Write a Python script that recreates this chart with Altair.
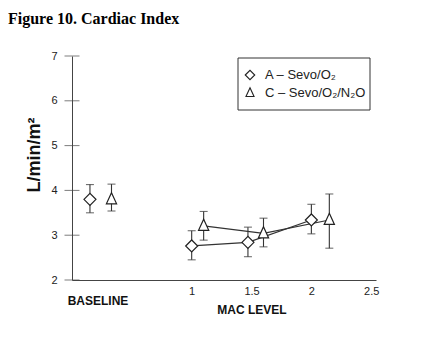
import altair as alt
import pandas as pd

# ---- data ----
groups = ["A – Sevo/O₂", "C – Sevo/O₂/N₂O"]
phase = ["baseline", "mac", "mac", "mac"]
a_x = [0.15, 1.0, 1.47, 2.0]
a_mean = [3.80, 2.76, 2.84, 3.34]
a_lo = [3.50, 2.45, 2.52, 3.03]
a_hi = [4.13, 3.10, 3.18, 3.69]
c_x = [0.33, 1.1, 1.6, 2.15]
c_mean = [3.80, 3.21, 3.04, 3.34]
c_lo = [3.54, 2.89, 2.74, 2.71]
c_hi = [4.14, 3.53, 3.38, 3.92]
y_ticks = [2, 3, 4, 5, 6, 7]
x_ticks = [1, 1.5, 2, 2.5]

rows = []
for g, xs, ms, los, his in [(groups[0], a_x, a_mean, a_lo, a_hi),
                            (groups[1], c_x, c_mean, c_lo, c_hi)]:
    for p, xv, m, lo, hi in zip(phase, xs, ms, los, his):
        rows.append({"group": g, "phase": p, "x": xv, "mean": m, "lo": lo, "hi": hi})
df = pd.DataFrame(rows)

AX = "#444444"
INK = "#333333"
FONT = "Liberation Sans"
SHAPES = ["diamond", "M0,-1.1L0.85,0.75L-0.85,0.75Z"]

xscale = alt.Scale(domain=[0, 2.54], nice=False, zero=False)
yscale = alt.Scale(domain=[2, 7], nice=False, zero=False)
xaxis = alt.Axis(values=x_ticks, ticks=False, grid=False, labelPadding=5,
                 labelFontSize=11, labelFont=FONT, labelColor="#222",
                 domainColor=AX, labelExpr="datum.value", title=None)
yaxis = alt.Axis(values=y_ticks, ticks=False, grid=False, labelPadding=15,
                 labelFontSize=11, labelFont=FONT, labelColor="#222",
                 domainColor=AX, title=None)

X = alt.X("x:Q", scale=xscale, axis=xaxis, title=None)
Y = alt.Y("mean:Q", scale=yscale, axis=yaxis, title=None)

base = alt.Chart(df)

lines = base.transform_filter("datum.phase == 'mac'").mark_line(
    color=INK, strokeWidth=1.2).encode(x=X, y=Y, detail="group:N")

rules = base.mark_rule(color=INK, strokeWidth=1.1).encode(
    x=X, y=alt.Y("lo:Q", scale=yscale, axis=yaxis, title=None), y2="hi:Q")
cap_lo = base.mark_tick(orient="horizontal", size=8, thickness=1.1, color=INK).encode(
    x=X, y=alt.Y("lo:Q", scale=yscale, axis=yaxis, title=None))
cap_hi = base.mark_tick(orient="horizontal", size=8, thickness=1.1, color=INK).encode(
    x=X, y=alt.Y("hi:Q", scale=yscale, axis=yaxis, title=None))

shape_scale = alt.Scale(domain=groups, range=SHAPES)
points = base.mark_point(filled=True, fill="white", stroke="#222", strokeWidth=1.2,
                         opacity=1, size=144).encode(
    x=X, y=Y, shape=alt.Shape("group:N", scale=shape_scale, legend=None))

ytick_df = pd.DataFrame({"x": [0] * len(y_ticks), "mean": y_ticks})
yticks = alt.Chart(ytick_df).mark_tick(orient="horizontal", size=15, thickness=1,
                                       color=AX).encode(x=X, y=Y)

def label(text, x, y, size, weight="bold", font=FONT, angle=0, align="center",
          baseline="middle", color="#111"):
    return alt.Chart(pd.DataFrame({"t": [text]})).mark_text(
        fontSize=size, fontWeight=weight, font=font, angle=angle, align=align,
        baseline=baseline, color=color).encode(
        text="t:N", x=alt.value(x), y=alt.value(y))

title_txt = label("Figure 10. Cardiac Index", -64, -32, 16, font="Liberation Serif",
                  align="left", baseline="alphabetic", color="#000")
ytitle = label("L/min/m²", -37, 99, 18, angle=270)
baseline_txt = label("BASELINE", 26, 245, 12)
mac_txt = label("MAC LEVEL", 180, 254, 12)

# ---- hand-drawn legend box ----
leg_box = alt.Chart(pd.DataFrame({"t": [""]})).mark_rect(
    fill="white", stroke="#333", strokeWidth=1).encode(
    x=alt.value(166), x2=alt.value(298), y=alt.value(2), y2=alt.value(54))
leg_layers = [leg_box]
for i, g in enumerate(groups):
    yy = 19 + 18 * i
    leg_layers.append(alt.Chart(pd.DataFrame({"group": [g]})).mark_point(
        filled=True, fill="white", stroke="#222", strokeWidth=1.1, opacity=1, size=90).encode(
        x=alt.value(178), y=alt.value(yy),
        shape=alt.Shape("group:N", scale=shape_scale, legend=None)))
    leg_layers.append(label(g, 193, yy, 13, weight="normal", align="left", color="#222"))

chart = alt.layer(lines, rules, cap_lo, cap_hi, points, yticks,
                  title_txt, ytitle, baseline_txt, mac_txt, *leg_layers).properties(
    width=304, height=224,
    autosize=alt.AutoSizeParams(type="none"),
    padding={"left": 64, "top": 48, "right": 40, "bottom": 60},
    background="white",
).configure_view(stroke=None)

chart.save("out.html", embed_options={"renderer": "svg", "actions": False})
